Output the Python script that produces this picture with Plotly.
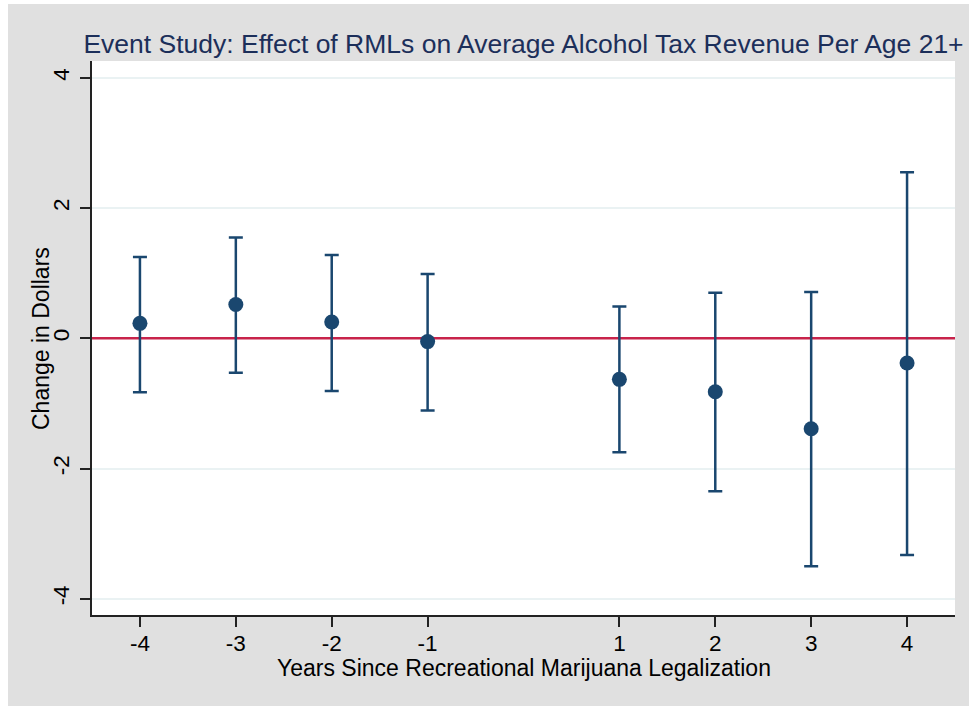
import plotly.graph_objects as go

# Event-study estimates with 95% confidence bounds
years = [-4, -3, -2, -1, 1, 2, 3, 4]
coef = [0.23, 0.52, 0.25, -0.05, -0.63, -0.82, -1.39, -0.38]
upper = [1.25, 1.55, 1.28, 0.99, 0.49, 0.70, 0.71, 2.55]
lower = [-0.83, -0.53, -0.81, -1.11, -1.75, -2.35, -3.50, -3.33]
y_ticks = [-4, -2, 0, 2, 4]
x_ticks = [-4, -3, -2, -1, 1, 2, 3, 4]
x_range = [-4.5, 4.5]
y_range = [-4.25, 4.26]

navy = "#1a476f"
font = "Liberation Sans, Arial, Helvetica, sans-serif"

err_plus = [u - c for u, c in zip(upper, coef)]
err_minus = [c - l for c, l in zip(coef, lower)]

fig = go.Figure()
# zero reference line across the full x range
fig.add_trace(go.Scatter(
    x=x_range, y=[0, 0], mode="lines",
    line=dict(color="#c8234b", width=2.5),
    showlegend=False, hoverinfo="skip",
))
fig.add_trace(go.Scatter(
    x=years, y=coef, mode="markers",
    marker=dict(color=navy, size=15),
    error_y=dict(type="data", symmetric=False, array=err_plus, arrayminus=err_minus,
                 color=navy, thickness=2.5, width=7),
    showlegend=False, cliponaxis=False,
))

# light gray frame with thin white edges
pl, pw, pt, ph = 92, 863, 61, 554
for x0, x1, y0, y1 in [(0, 8, 0, 708), (0, 969, 0, 4), (0, 969, 706, 708)]:
    fig.add_shape(type="rect", xref="paper", yref="paper",
                  x0=(x0 - pl) / pw, x1=(x1 - pl) / pw,
                  y0=(pt + ph - y1) / ph, y1=(pt + ph - y0) / ph,
                  fillcolor="white", line=dict(width=0), layer="below")

# axis titles
fig.add_annotation(text="Years Since Recreational Marijuana Legalization",
                   xref="paper", yref="paper", x=0.5, y=(pt + ph - 668) / ph,
                   xanchor="center", yanchor="middle", showarrow=False,
                   font=dict(size=23))
fig.add_annotation(text="Change in Dollars", textangle=-90,
                   xref="paper", yref="paper", x=(41 - pl) / pw, y=(pt + ph - 339) / ph,
                   xanchor="center", yanchor="middle", showarrow=False,
                   font=dict(size=23))

fig.update_layout(
    width=969, height=708,
    margin=dict(l=92, r=14, t=61, b=93),
    paper_bgcolor="#e0e0e0", plot_bgcolor="white",
    font=dict(family=font, color="black"),
    title=dict(text="Event Study: Effect of RMLs on Average Alcohol Tax Revenue Per Age 21+",
               x=0.5, xref="paper", xanchor="center", y=1 - 44 / 708, yanchor="middle",
               font=dict(size=26.5, color="#1c2f5a")),
    xaxis=dict(range=x_range, tickvals=x_ticks, ticktext=[str(v) for v in x_ticks],
               showgrid=False, zeroline=False, showline=True, linecolor="#222", linewidth=1.5,
               ticks="outside", ticklen=10, tickwidth=1.5, tickcolor="#222",
               ticklabelstandoff=-3, tickfont=dict(size=22.5)),
    yaxis=dict(range=y_range, tickvals=y_ticks, ticktext=[str(v) for v in y_ticks],
               showgrid=True, gridcolor="#eaf2f3", gridwidth=1.5, zeroline=False,
               showline=True, linecolor="#222", linewidth=1.5,
               ticks="outside", ticklen=10, tickwidth=1.5, tickcolor="#222", tickangle=-90,
               ticklabelstandoff=2, tickfont=dict(size=22.5)),
)

fig.write_html("out.html")
